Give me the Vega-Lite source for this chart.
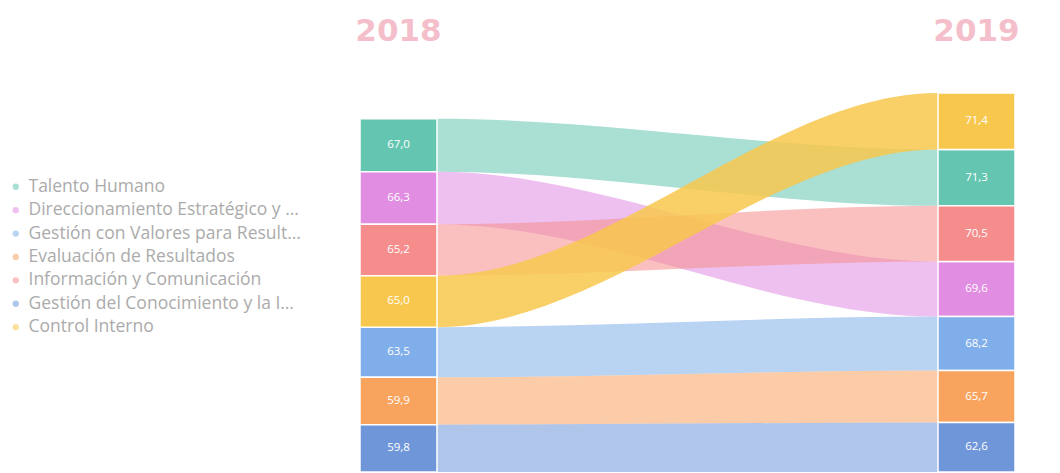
{
  "$schema": "https://vega.github.io/schema/vega-lite/v6.json",
  "width": 655,
  "height": 379,
  "autosize": {"type": "none"},
  "padding": {"left": 360, "top": 93, "right": 45, "bottom": 1},
  "background": "white",
  "config": {
    "view": {"stroke": null},
    "locale": {"number": {"decimal": ",", "thousands": ".", "grouping": [3], "currency": ["", " €"]}},
    "legend": {
      "orient": "none",
      "legendX": -353,
      "legendY": 85,
      "title": null,
      "symbolType": "circle",
      "symbolSize": 40,
      "labelFontSize": 17.5,
      "labelFont": "Open Sans",
      "labelColor": "#ababab",
      "labelLimit": 276,
      "rowPadding": 4.4
    }
  },
  "data": {
    "values": [
      {"categoria": "Talento Humano", "anio": 2018, "valor": 67.0},
      {"categoria": "Talento Humano", "anio": 2019, "valor": 71.3},
      {"categoria": "Direccionamiento Estratégico y Planeación", "anio": 2018, "valor": 66.3},
      {"categoria": "Direccionamiento Estratégico y Planeación", "anio": 2019, "valor": 69.6},
      {"categoria": "Gestión con Valores para Resultados", "anio": 2018, "valor": 63.5},
      {"categoria": "Gestión con Valores para Resultados", "anio": 2019, "valor": 68.2},
      {"categoria": "Evaluación de Resultados", "anio": 2018, "valor": 59.9},
      {"categoria": "Evaluación de Resultados", "anio": 2019, "valor": 65.7},
      {"categoria": "Información y Comunicación", "anio": 2018, "valor": 65.2},
      {"categoria": "Información y Comunicación", "anio": 2019, "valor": 70.5},
      {"categoria": "Gestión del Conocimiento y la Innovación", "anio": 2018, "valor": 59.8},
      {"categoria": "Gestión del Conocimiento y la Innovación", "anio": 2019, "valor": 62.6},
      {"categoria": "Control Interno", "anio": 2018, "valor": 65.0},
      {"categoria": "Control Interno", "anio": 2019, "valor": 71.4}
    ]
  },
  "layer": [
    {
      "transform": [
        {"stack": "valor", "groupby": ["anio"], "sort": [{"field": "valor", "order": "ascending"}], "as": ["y0", "y1"]},
        {"filter": "datum.categoria !== 'Control Interno'"},
        {"fold": ["anio", "anio"], "as": ["clave", "copia"]},
        {"window": [{"op": "row_number", "as": "paso"}], "groupby": ["categoria"], "sort": [{"field": "anio", "order": "ascending"}]}
      ],
      "mark": {"type": "area", "interpolate": "monotone", "opacity": 0.55, "clip": true},
      "encoding": {
        "x": {"field": "paso", "type": "quantitative", "scale": {"domain": [1.8463, 3.1537], "nice": false, "zero": false}, "axis": null},
        "y": {"field": "y0", "type": "quantitative", "scale": {"domain": [0, 479.3], "nice": false}, "axis": null},
        "y2": {"field": "y1"},
        "color": {
          "field": "categoria",
          "type": "nominal",
          "scale": {
            "domain": ["Talento Humano", "Direccionamiento Estratégico y Planeación", "Gestión con Valores para Resultados", "Evaluación de Resultados", "Información y Comunicación", "Gestión del Conocimiento y la Innovación", "Control Interno"],
            "range": ["#64C5B0", "#E08DE2", "#7FAEEA", "#F8A35E", "#F58D8D", "#6F96D8", "#F8C84E"]
          }
        }
      }
    },
    {
      "transform": [
        {"stack": "valor", "groupby": ["anio"], "sort": [{"field": "valor", "order": "ascending"}], "as": ["y0", "y1"]},
        {"filter": "datum.categoria === 'Control Interno'"},
        {"fold": ["anio", "anio"], "as": ["clave", "copia"]},
        {"window": [{"op": "row_number", "as": "paso"}], "groupby": ["categoria"], "sort": [{"field": "anio", "order": "ascending"}]}
      ],
      "mark": {"type": "area", "interpolate": "monotone", "opacity": 0.85, "clip": true},
      "encoding": {
        "x": {"field": "paso", "type": "quantitative", "scale": {"domain": [1.8463, 3.1537], "nice": false, "zero": false}, "axis": null},
        "y": {"field": "y0", "type": "quantitative", "scale": {"domain": [0, 479.3], "nice": false}, "axis": null},
        "y2": {"field": "y1"},
        "color": {"field": "categoria", "type": "nominal"}
      }
    },
    {
      "mark": {"type": "bar", "stroke": "white", "strokeWidth": 1.5},
      "encoding": {
        "x": {
          "field": "anio",
          "type": "nominal",
          "scale": {"paddingInner": 0.8668, "paddingOuter": 0},
          "axis": {"orient": "top", "title": null, "domain": false, "ticks": false, "labelAngle": 0, "labelFontSize": 31, "labelFontWeight": "bold", "labelColor": "#F4BFCB", "labelFont": "DejaVu Sans", "labelPadding": 46}
        },
        "y": {"field": "valor", "type": "quantitative", "stack": "zero", "scale": {"domain": [0, 479.3], "nice": false}, "axis": null},
        "order": {"field": "valor", "type": "quantitative", "sort": "ascending"},
        "color": {"field": "categoria", "type": "nominal"}
      }
    },
    {
      "mark": {"type": "text", "color": "white", "fontSize": 11.5, "font": "Open Sans"},
      "encoding": {
        "x": {"field": "anio", "type": "nominal", "scale": {"type": "band", "paddingInner": 0.8668, "paddingOuter": 0}, "axis": null},
        "y": {"field": "valor", "type": "quantitative", "stack": "zero", "bandPosition": 0.5, "scale": {"domain": [0, 479.3], "nice": false}, "axis": null},
        "order": {"field": "valor", "type": "quantitative", "sort": "ascending"},
        "text": {"field": "valor", "type": "quantitative", "format": ".1f"}
      }
    }
  ],
  "resolve": {"scale": {"x": "independent"}, "axis": {"x": "independent"}}
}
